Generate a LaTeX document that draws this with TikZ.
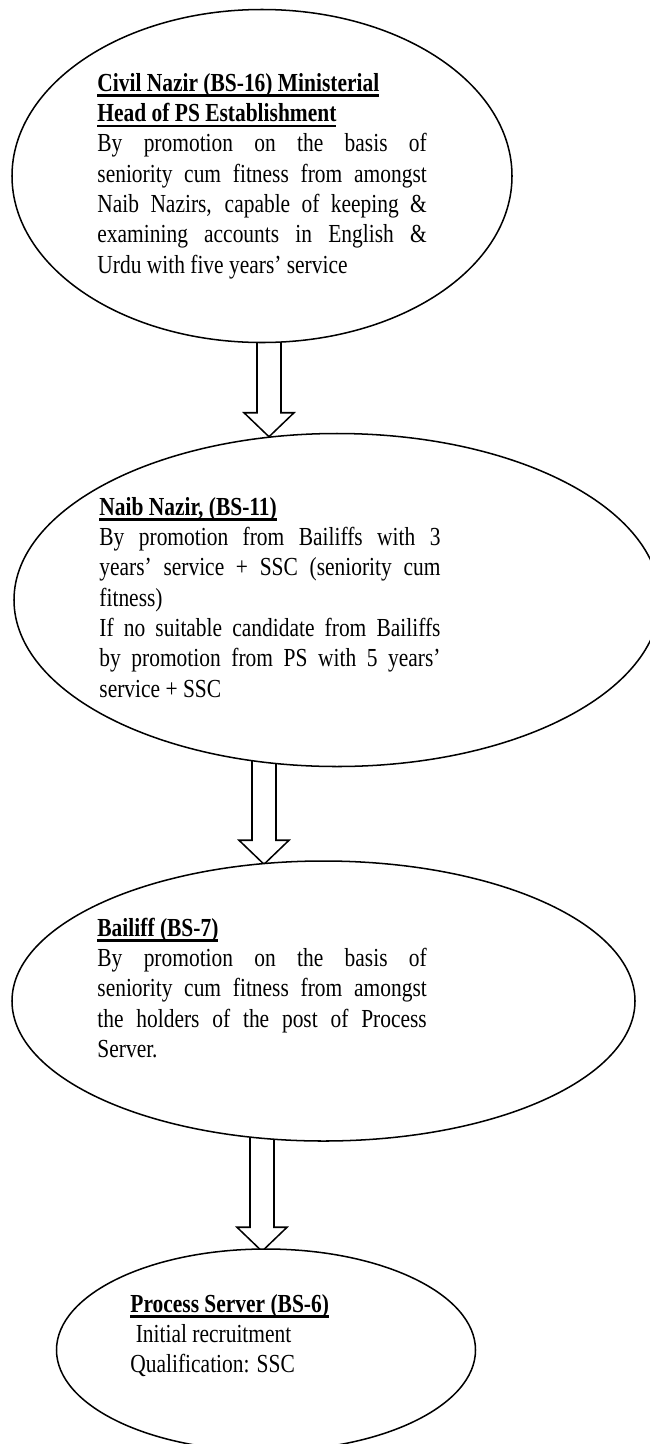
\documentclass[tikz,border=0pt]{standalone}
\usepackage{fontspec}
\setmainfont{Liberation Serif}[FakeStretch=0.825]
\usetikzlibrary{shapes.geometric,calc,backgrounds,positioning}
\newlength{\pxu}
\setlength{\pxu}{0.4615pt}
\newcommand{\hd}[1]{\setbox0\hbox{\textbf{#1}}\rlap{\rule[-2.6pt]{\wd0}{1pt}}\box0}
\newcommand{\blockarrow}[2]{%
  \draw[blockarr] ($(#1)+(-12,0)$) -- ($(#2)+(-12,-24)$) -- ($(#2)+(-25,-24)$) -- (#2)
    -- ($(#2)+(25,-24)$) -- ($(#2)+(12,-24)$) -- ($(#1)+(12,0)$) -- cycle;}
\tikzset{
  post/.style={ellipse, draw, line width=0.7pt, fill=white, inner sep=0pt},
  duty/.style={anchor=base west, inner sep=0pt, align=justify, font=\fontsize{12pt}{14pt}\selectfont},
  blockarr/.style={draw, line width=0.7pt, fill=white},
}

\begin{document}
\begin{tikzpicture}[x=0.4615pt, y=-0.4615pt]
  \useasboundingbox (0,0) rectangle (649,1444);
  \node[post, minimum width=500\pxu, minimum height=333\pxu] (civil) at (262,176) {};
  \node[post, minimum width=646\pxu, minimum height=333\pxu] (naib) at (337,600) {};
  \node[post, minimum width=623\pxu, minimum height=280\pxu] (bailiff) at (323.5,1001) {};
  \node[post, minimum width=419\pxu, minimum height=202\pxu] (server) at (266,1350) {};
  \node[duty, text width=152pt] (civiltxt) at (97,91) {\hd{Civil Nazir (BS-16) Ministerial}\\
    \hd{Head of PS Establishment}\\
    By promotion on the basis of\linebreak seniority cum fitness from amongst\linebreak
    Naib Nazirs, capable of keeping \&\linebreak examining accounts in English \&\linebreak
    Urdu with five years' service};
  \node[duty, text width=157.4pt] (naibtxt) at (99,515) {\hd{Naib Nazir, (BS-11)}\\
    By promotion from Bailiffs with 3\linebreak years' service + SSC (seniority cum\linebreak
    fitness)\\
    If no suitable candidate from Bailiffs\linebreak by promotion from PS with 5 years'\linebreak
    service + SSC};
  \node[duty, text width=152pt] (bailifftxt) at (97,936) {\hd{Bailiff (BS-7)}\\
    By promotion on the basis of\linebreak seniority cum fitness from amongst\linebreak
    the holders of the post of Process\linebreak Server.};
  \node[duty, text width=120pt] (servertxt) at (130,1312) {\hd{Process Server (BS-6)}\\
    \hspace*{2.5pt}Initial recruitment\\
    Qualification: SSC};
  \coordinate (a1top) at ($(civil.south)+(7,-8)$);
  \coordinate (a1tip) at ($(naib.north)+(-68,4)$);
  \coordinate (a2top) at ($(naib.south)+(-73,-10)$);
  \coordinate (a2tip) at ($(bailiff.north)+(-59.5,4)$);
  \coordinate (a3top) at ($(bailiff.south)+(-61.5,-10)$);
  \coordinate (a3tip) at ($(server.north)+(-4,3)$);
  \begin{pgfonlayer}{background}
    \blockarrow{a1top}{a1tip}
    \blockarrow{a2top}{a2tip}
    \blockarrow{a3top}{a3tip}
  \end{pgfonlayer}
\end{tikzpicture}
\end{document}
